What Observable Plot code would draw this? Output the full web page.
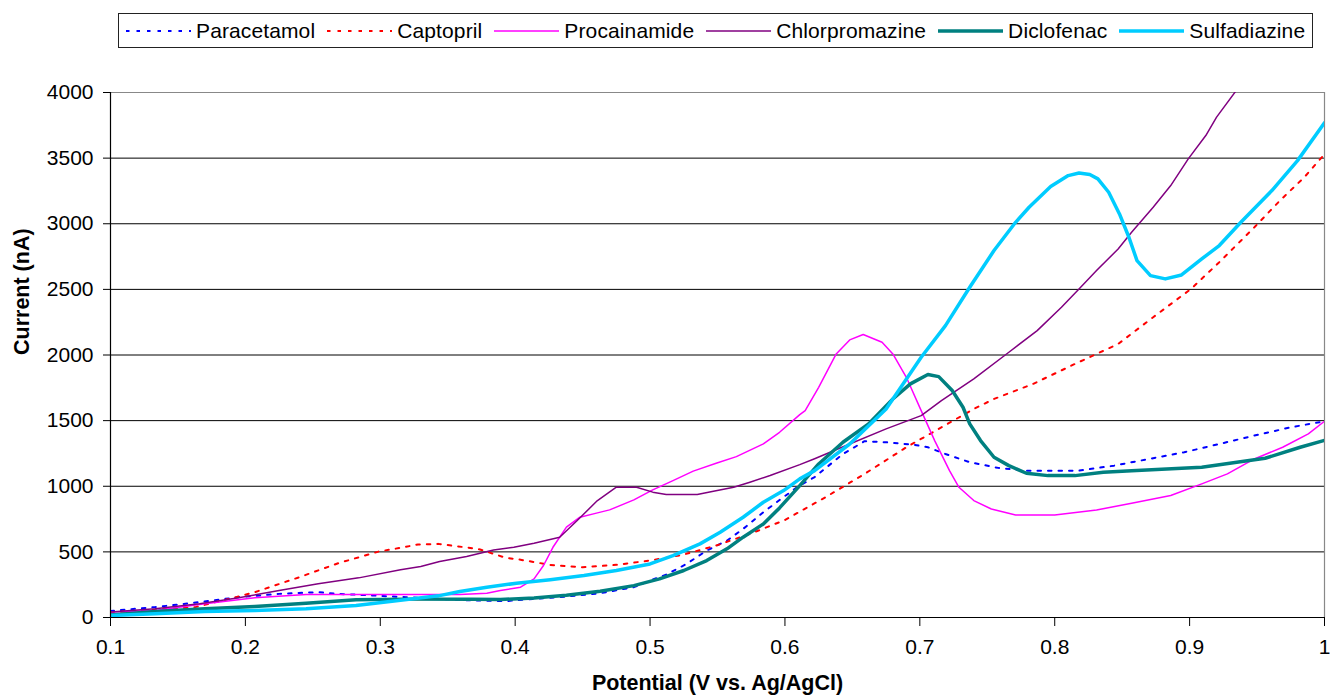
<!DOCTYPE html>
<html>
<head>
<meta charset="utf-8">
<script src="https://cdn.jsdelivr.net/npm/d3@7"></script>
<script src="https://cdn.jsdelivr.net/npm/@observablehq/plot@0.6"></script>
<style>
  html, body { margin: 0; padding: 0; background: #fff; }
  #wrap { position: relative; width: 1330px; height: 699px; font-family: "Liberation Sans", Arial, sans-serif; }
  #legend { position: absolute; left: 118px; top: 13px; width: 1195px; height: 35px; border: 1px solid #222;
            background: #fff; display: flex; align-items: center; padding-left: 7px; box-sizing: border-box;
            font-size: 21px; letter-spacing: 0.12px; color: #000; }
  .item { display: flex; align-items: center; margin-right: 12px; }
  .item svg { margin-right: 5px; }
</style>
</head>
<body>
<div id="wrap">
  <div id="chart"></div>
  <div id="legend"></div>
</div>
<script>
const names = ["Paracetamol", "Captopril", "Procainamide", "Chlorpromazine", "Diclofenac", "Sulfadiazine"];
const colors = ["#0000FF", "#FF0000", "#FF00FF", "#800080", "#008080", "#00CCFF"];
const widths = [2, 2, 1.5, 1.5, 3.5, 3.5];
const dashes = ["3.5,7", "3.5,7", null, null, null, null];

const xTicks = [0.1, 0.2, 0.3, 0.4, 0.5, 0.6, 0.7, 0.8, 0.9, 1];
const yTicks = [0, 500, 1000, 1500, 2000, 2500, 3000, 3500, 4000];

// [potential V, current nA]
const paracetamol = [[0.1,50],[0.133,79],[0.166,117],[0.195,155],[0.225,180],[0.254,193],[0.269,180],[0.294,168],[0.319,155],[0.343,142],[0.368,130],[0.393,125],[0.414,142],[0.438,160],[0.463,185],[0.488,231],[0.5,281],[0.512,327],[0.527,408],[0.542,510],[0.557,586],[0.569,675],[0.584,802],[0.596,895],[0.609,993],[0.622,1070],[0.643,1246],[0.659,1343],[0.675,1335],[0.695,1317],[0.706,1297],[0.719,1246],[0.737,1183],[0.758,1140],[0.779,1119],[0.818,1119],[0.844,1157],[0.870,1208],[0.896,1259],[0.922,1322],[0.948,1386],[0.975,1449],[1.0,1495]];
const captopril = [[0.1,40],[0.133,58],[0.163,79],[0.193,155],[0.207,193],[0.240,307],[0.269,414],[0.299,503],[0.315,531],[0.328,556],[0.343,561],[0.368,528],[0.374,518],[0.393,455],[0.404,440],[0.426,401],[0.45,383],[0.475,401],[0.5,434],[0.524,477],[0.549,548],[0.574,637],[0.6,743],[0.630,916],[0.659,1094],[0.690,1297],[0.727,1513],[0.740,1589],[0.755,1665],[0.784,1780],[0.815,1932],[0.847,2084],[0.873,2288],[0.901,2503],[0.922,2707],[0.948,2973],[0.967,3177],[0.985,3354],[1.0,3530]];
const procainamide = [[0.1,41],[0.133,53],[0.170,104],[0.207,150],[0.245,175],[0.294,175],[0.343,175],[0.359,175],[0.379,185],[0.389,205],[0.404,231],[0.414,294],[0.421,396],[0.428,535],[0.438,688],[0.448,764],[0.461,797],[0.470,820],[0.488,896],[0.502,972],[0.517,1043],[0.532,1115],[0.549,1175],[0.564,1226],[0.584,1323],[0.596,1411],[0.611,1546],[0.615,1576],[0.625,1754],[0.638,2008],[0.648,2115],[0.658,2156],[0.672,2097],[0.680,2008],[0.690,1830],[0.701,1576],[0.711,1348],[0.722,1119],[0.729,992],[0.740,891],[0.753,827],[0.771,781],[0.800,781],[0.831,819],[0.857,870],[0.886,929],[0.909,1018],[0.928,1094],[0.948,1208],[0.969,1297],[0.988,1399],[1.0,1495]];
const chlorpromazine = [[0.1,41],[0.133,66],[0.166,104],[0.195,150],[0.225,206],[0.254,257],[0.284,302],[0.315,363],[0.330,388],[0.344,426],[0.364,464],[0.384,515],[0.399,535],[0.414,566],[0.433,612],[0.446,739],[0.461,891],[0.475,993],[0.490,993],[0.502,955],[0.512,937],[0.535,937],[0.547,962],[0.562,993],[0.574,1031],[0.589,1082],[0.611,1165],[0.622,1210],[0.648,1322],[0.675,1437],[0.701,1538],[0.716,1653],[0.740,1818],[0.766,2021],[0.787,2186],[0.805,2364],[0.818,2503],[0.831,2643],[0.847,2808],[0.857,2935],[0.873,3126],[0.886,3291],[0.899,3494],[0.912,3672],[0.920,3812],[0.934,4007],[0.945,4200]];
const diclofenac = [[0.1,20],[0.133,46],[0.170,66],[0.207,84],[0.245,109],[0.282,135],[0.319,140],[0.368,140],[0.389,137],[0.414,149],[0.438,170],[0.463,200],[0.488,243],[0.507,294],[0.525,358],[0.542,434],[0.557,523],[0.569,612],[0.584,713],[0.596,835],[0.611,1005],[0.625,1170],[0.643,1335],[0.662,1475],[0.680,1665],[0.693,1780],[0.706,1851],[0.714,1835],[0.724,1729],[0.732,1602],[0.737,1475],[0.745,1348],[0.755,1221],[0.766,1157],[0.779,1099],[0.795,1081],[0.815,1081],[0.836,1106],[0.857,1119],[0.883,1132],[0.909,1145],[0.935,1183],[0.956,1213],[0.982,1297],[1.0,1350]];
const sulfadiazine = [[0.1,15],[0.133,28],[0.170,46],[0.207,53],[0.245,66],[0.282,92],[0.315,132],[0.343,165],[0.359,198],[0.379,231],[0.401,261],[0.426,288],[0.451,320],[0.475,358],[0.500,408],[0.517,472],[0.537,561],[0.552,650],[0.569,764],[0.584,878],[0.599,967],[0.611,1056],[0.622,1119],[0.648,1322],[0.675,1589],[0.701,1983],[0.719,2224],[0.737,2516],[0.755,2796],[0.771,3011],[0.781,3126],[0.797,3283],[0.810,3367],[0.818,3387],[0.826,3375],[0.832,3342],[0.840,3240],[0.848,3075],[0.855,2897],[0.861,2719],[0.871,2605],[0.882,2580],[0.894,2610],[0.909,2732],[0.922,2834],[0.938,3011],[0.961,3253],[0.980,3481],[1.0,3770]];

const series = [paracetamol, captopril, procainamide, chlorpromazine, diclofenac, sulfadiazine];

const lineMarks = series.map((s, k) => Plot.line(s, {
  x: d => d[0], y: d => d[1],
  stroke: colors[k], strokeWidth: widths[k],
  strokeDasharray: dashes[k] || undefined,
  strokeLinejoin: "round", clip: true
}));

const chart = Plot.plot({
  width: 1330, height: 699,
  marginLeft: 110, marginRight: 6, marginTop: 92, marginBottom: 82,
  style: { fontFamily: "'Liberation Sans', Arial, sans-serif", fontSize: "21px", color: "#000", background: "#fff" },
  x: { domain: [0.1, 1] },
  y: { domain: [0, 4000] },
  marks: [
    Plot.ruleY(yTicks.filter(d => d > 0 && d < 4000), { stroke: "#000", strokeWidth: 1 }),
    Plot.ruleY([4000], { stroke: "#888", strokeWidth: 1.2 }),
    Plot.ruleX([1], { stroke: "#888", strokeWidth: 1.2 }),
    ...lineMarks,
    Plot.ruleX([0.1], { stroke: "#000", strokeWidth: 1.2 }),
    Plot.ruleY([0], { stroke: "#000", strokeWidth: 1.2 }),
    Plot.axisX({ ticks: xTicks, tickSize: 9, tickPadding: 13, tickFormat: d => String(d), label: null, fontSize: 21, stroke: "#000" }),
    Plot.axisY({ ticks: yTicks, tickSize: 7, tickPadding: 10, tickFormat: d => String(d), label: null, fontSize: 21, stroke: "#000" }),
    Plot.text(["Potential (V vs. Ag/AgCl)"], { frameAnchor: "bottom", dy: 72, fontWeight: "bold", fontSize: 21.5, fill: "#000" }),
    Plot.text(["Current (nA)"], { frameAnchor: "left", dx: -88, rotate: -90, fontWeight: "bold", fontSize: 21.5, fill: "#000" })
  ]
});
document.getElementById("chart").appendChild(chart);

const legend = document.getElementById("legend");
names.forEach((n, k) => {
  const item = document.createElement("div");
  item.className = "item";
  item.innerHTML = `<svg width="65" height="10"><line x1="0" x2="65" y1="5" y2="5" stroke="${colors[k]}" stroke-width="${widths[k]}" ${dashes[k] ? `stroke-dasharray="${dashes[k]}"` : ""}/></svg><span>${n}</span>`;
  legend.appendChild(item);
});
</script>
</body>
</html>
